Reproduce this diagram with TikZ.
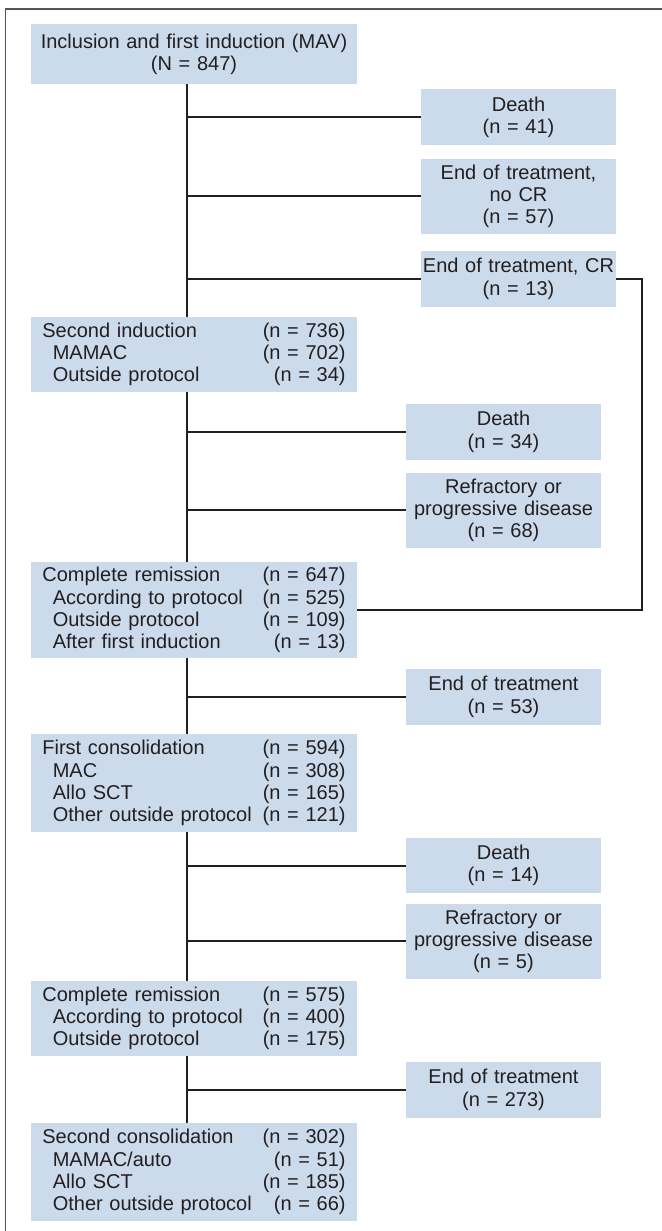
\documentclass[tikz,border=0pt]{standalone}
\usepackage{fontspec}
\setmainfont{Liberation Sans}

\definecolor{boxblue}{RGB}{204,219,236}
\definecolor{inkgray}{RGB}{35,31,32}
\definecolor{framegray}{RGB}{85,85,85}

\newcommand{\subind}{\hspace*{5.2pt}}
\hyphenpenalty=10000

\tikzstyle{link} = [line width=1pt, draw=inkgray]
\tikzstyle{frameline} = [line width=0.6pt, draw=framegray]
\tikzstyle{mainblock} = [
        rectangle,
        text width=151.6pt,
        inner xsep=5.7pt,
        inner ysep=2pt,
        align=left,
        fill=boxblue,
        text=inkgray,
        font=\fontsize{10}{11.15}\selectfont
    ]
\tikzstyle{sideblock} = [
        rectangle,
        text width=96pt,
        inner xsep=0.75pt,
        inner ysep=2pt,
        text centered,
        fill=boxblue,
        text=inkgray,
        font=\fontsize{10}{11.15}\selectfont
    ]

\begin{document}
\begin{tikzpicture}[x=0.5pt, y=-0.5pt]
        \useasboundingbox (0,0) rectangle (662,1231);
        \draw [frameline] (5.7,1300) -- (5.7,9) -- (720,9);

        \coordinate (trunk) at (187.3,0);
        \coordinate (back) at (642,0);

        % main column
        \node (incl) [%
            mainblock,%
            text width=158pt,%
            inner xsep=2.5pt,%
            align=center,%
            minimum height=30pt
            ] at (194,54) {Inclusion and first induction (MAV)\\(N = 847)};

        \node (secind) [%
            mainblock,%
            minimum height=37.2pt,%
            below of=incl,%
            node distance=150.25pt
            ] {Second induction\hfill(n = 736)\\
                \subind MAMAC\hfill(n = 702)\\
                \subind Outside protocol\hfill(n = 34)};

        \node (crone) [%
            mainblock,%
            minimum height=47.7pt,%
            below of=secind,%
            node distance=127.75pt
            ] {Complete remission\hfill(n = 647)\\
                \subind According to protocol\hfill(n = 525)\\
                \subind Outside protocol\hfill(n = 109)\\
                \subind After first induction\hfill(n = 13)};

        \node (firstcons) [%
            mainblock,%
            minimum height=48.7pt,%
            below of=crone,%
            node distance=86.5pt
            ] {First consolidation\hfill(n = 594)\\
                \subind MAC\hfill(n = 308)\\
                \subind Allo SCT\hfill(n = 165)\\
                \subind Other outside protocol\hfill(n = 121)};

        \node (crtwo) [%
            mainblock,%
            minimum height=37.35pt,%
            below of=firstcons,%
            node distance=117.7pt
            ] {Complete remission\hfill(n = 575)\\
                \subind According to protocol\hfill(n = 400)\\
                \subind Outside protocol\hfill(n = 175)};

        \node (secondcons) [%
            mainblock,%
            minimum height=48.7pt,%
            below of=crtwo,%
            node distance=76.8pt
            ] {Second consolidation\hfill(n = 302)\\
                \subind MAMAC/auto\hfill(n = 51)\\
                \subind Allo SCT\hfill(n = 185)\\
                \subind Other outside protocol\hfill(n = 66)};

        % side boxes
        \node (deathone) [sideblock, minimum height=27.85pt] at (518.5,117) {Death\\(n = 41)};
        \node (endnocr) [sideblock, minimum height=37.35pt] at (518.5,196.35) {End of treatment,\\no CR\\(n = 57)};
        \node (endcr) [sideblock, minimum height=27.85pt] at (518.5,278.85) {End of treatment, CR\\(n = 13)};

        \node (deathtwo) [sideblock, minimum height=27.85pt] at (503.5,431.85) {Death\\(n = 34)};
        \node (refrone) [sideblock, minimum height=37.35pt] at (503.5,510.35) {Refractory or\\progressive disease\\(n = 68)};

        \node (endone) [sideblock, minimum height=27.85pt] at (503.5,696.85) {End of treatment\\(n = 53)};

        \node (deaththree) [sideblock, minimum height=27.85pt] at (503.5,865.5) {Death\\(n = 14)};
        \node (refrtwo) [sideblock, minimum height=37.35pt] at (503.5,941.35) {Refractory or\\progressive disease\\(n = 5)};

        \node (endtwo) [sideblock, minimum height=27.85pt] at (503.5,1089.85) {End of treatment\\(n = 273)};

        % trunk
        \draw [link] (incl.south -| trunk) -- (secind.north -| trunk);
        \draw [link] (secind.south -| trunk) -- (crone.north -| trunk);
        \draw [link] (crone.south -| trunk) -- (firstcons.north -| trunk);
        \draw [link] (firstcons.south -| trunk) -- (crtwo.north -| trunk);
        \draw [link] (crtwo.south -| trunk) -- (secondcons.north -| trunk);

        % branches
        \draw [link] (trunk |- deathone) -- (deathone);
        \draw [link] (trunk |- endnocr) -- (endnocr);
        \draw [link] (trunk |- endcr) -- (endcr);
        \draw [link] (trunk |- deathtwo) -- (deathtwo);
        \draw [link] (trunk |- refrone) -- (refrone);
        \draw [link] (trunk |- endone) -- (endone);
        \draw [link] (trunk |- deaththree) -- (deaththree);
        \draw [link] (trunk |- refrtwo) -- (refrtwo);
        \draw [link] (trunk |- endtwo) -- (endtwo);

        % back to remission
        \draw [link] (endcr.east) -- (endcr.east -| back) |- (crone.east);

    \end{tikzpicture}
\end{document}
